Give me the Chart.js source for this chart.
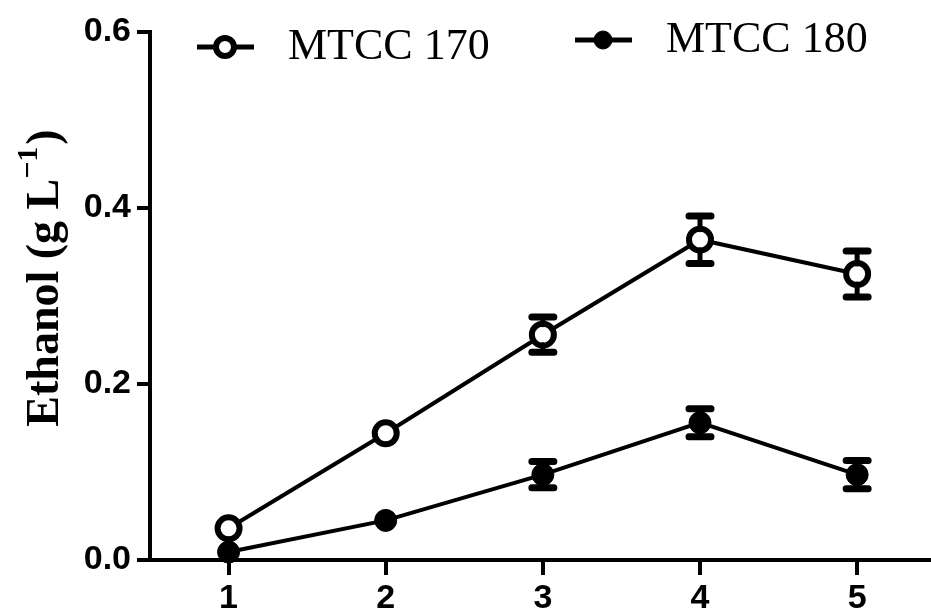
<!DOCTYPE html>
<html>
<head>
<meta charset="utf-8">
<script src="https://cdn.jsdelivr.net/npm/chart.js@4"></script>
<style>
    html, body { margin: 0; padding: 0; background: #fff; }
    #wrap { width: 931px; height: 612px; position: relative; }
</style>
</head>
<body>
<div id="wrap"><canvas id="chart"></canvas></div>
<script>
// values
const days = [1, 2, 3, 4, 5];
const mtcc170 = [0.036, 0.144, 0.256, 0.364, 0.325];
const mtcc170Err = [0, 0, 0.020, 0.027, 0.026];
const mtcc180 = [0.009, 0.045, 0.097, 0.156, 0.097];
const mtcc180Err = [0, 0, 0.015, 0.016, 0.016];
const yTicks = [0, 0.2, 0.4, 0.6];
const yTitle = ['Ethanol (g L', '\u22121', ')'];

const black = '#000';

function toPoints(xs, ys) {
    return xs.map((x, i) => ({ x: x, y: ys[i] }));
}

// error bars drawn through the chart's own scales
const errorBars = {
    id: 'errorBars',
    afterDatasetsDraw(chart) {
        const ctx = chart.ctx;
        const yScale = chart.scales.y;
        chart.data.datasets.forEach((ds, di) => {
            const meta = chart.getDatasetMeta(di);
            ds.errors.forEach((e, i) => {
                if (!e) return;
                const pt = meta.data[i];
                const v = ds.data[i].y;
                const top = yScale.getPixelForValue(v + e);
                const bot = yScale.getPixelForValue(v - e);
                ctx.save();
                ctx.strokeStyle = black;
                ctx.lineCap = 'round';
                ctx.lineWidth = 5;
                ctx.beginPath();
                ctx.moveTo(pt.x, top);
                ctx.lineTo(pt.x, pt.y - 10);
                ctx.moveTo(pt.x, pt.y + 10);
                ctx.lineTo(pt.x, bot);
                ctx.stroke();
                ctx.lineWidth = 7;
                ctx.beginPath();
                ctx.moveTo(pt.x - 11, top);
                ctx.lineTo(pt.x + 11, top);
                ctx.moveTo(pt.x - 11, bot);
                ctx.lineTo(pt.x + 11, bot);
                ctx.stroke();
                ctx.restore();
            });
        });
    }
};

// legend items placed like the original figure
const legendSpots = [
    { x: 197, y: 47 },
    { x: 575, y: 40 }
];
const figureLegend = {
    id: 'figureLegend',
    afterDraw(chart) {
        const ctx = chart.ctx;
        chart.data.datasets.forEach((ds, i) => {
            const s = legendSpots[i];
            ctx.save();
            ctx.strokeStyle = black;
            ctx.lineWidth = 5;
            ctx.beginPath();
            ctx.moveTo(s.x, s.y);
            ctx.lineTo(s.x + 57, s.y);
            ctx.stroke();
            ctx.beginPath();
            ctx.arc(s.x + 28, s.y, ds.pointRadius - 2, 0, Math.PI * 2);
            ctx.fillStyle = ds.pointBackgroundColor;
            ctx.fill();
            ctx.lineWidth = ds.pointBorderWidth;
            ctx.stroke();
            ctx.fillStyle = black;
            ctx.font = '44px "Liberation Serif"';
            ctx.textBaseline = 'middle';
            ctx.fillText(ds.label, s.x + 91, s.y);
            ctx.restore();
        });
    }
};

// rotated axis title with a real superscript
const axisTitle = {
    id: 'axisTitle',
    afterDraw(chart) {
        const ctx = chart.ctx;
        const big = 'bold 46px "Liberation Serif"';
        const small = 'bold 30px "Liberation Serif"';
        ctx.save();
        ctx.font = big;
        const w1 = ctx.measureText(yTitle[0]).width;
        const w3 = ctx.measureText(yTitle[2]).width;
        ctx.font = small;
        const w2 = ctx.measureText(yTitle[1]).width;
        const total = w1 + w2 + w3 + 2;
        ctx.translate(43, 278);
        ctx.rotate(-Math.PI / 2);
        ctx.fillStyle = black;
        ctx.textBaseline = 'alphabetic';
        let x = -total / 2;
        ctx.font = big;
        ctx.fillText(yTitle[0], x, 15);
        x += w1;
        ctx.font = small;
        ctx.fillText(yTitle[1], x, -6);
        x += w2 + 2;
        ctx.font = big;
        ctx.fillText(yTitle[2], x, 15);
        ctx.restore();
    }
};

new Chart(document.getElementById('chart'), {
    type: 'line',
    data: {
        datasets: [
            {
                label: 'MTCC 170',
                data: toPoints(days, mtcc170),
                errors: mtcc170Err,
                borderColor: black,
                borderWidth: 4,
                pointRadius: 11,
                pointBorderWidth: 6,
                pointBackgroundColor: '#fff',
                pointBorderColor: black,
                clip: false
            },
            {
                label: 'MTCC 180',
                data: toPoints(days, mtcc180),
                errors: mtcc180Err,
                borderColor: black,
                borderWidth: 4,
                pointRadius: 11,
                pointBorderWidth: 1,
                pointBackgroundColor: black,
                pointBorderColor: black,
                clip: false
            }
        ]
    },
    options: {
        responsive: true,
        maintainAspectRatio: false,
        animation: false,
        layout: { autoPadding: false, padding: { top: 32, right: 0, left: 0, bottom: 0 } },
        plugins: {
            legend: { display: false },
            tooltip: { enabled: false }
        },
        scales: {
            x: {
                type: 'linear',
                min: 0.5,
                max: 5.47,
                afterBuildTicks: scale => {
                    scale.ticks = days.map(d => ({ value: d }));
                },
                afterFit: scale => {
                    scale.height = 52;
                    scale.paddingLeft = 0;
                    scale.paddingRight = 0;
                },
                border: { display: true, color: black, width: 4 },
                grid: { drawOnChartArea: false, drawTicks: true, tickLength: 15, color: black, lineWidth: 4 },
                ticks: {
                    color: black,
                    padding: 3,
                    maxRotation: 0,
                    font: { family: '"Liberation Sans"', weight: 'bold', size: 34 }
                }
            },
            y: {
                min: 0,
                max: 0.6,
                afterBuildTicks: scale => {
                    scale.ticks = yTicks.map(v => ({ value: v }));
                },
                afterFit: scale => {
                    scale.width = 150;
                    scale.paddingTop = 0;
                    scale.paddingBottom = 0;
                },
                border: { display: true, color: black, width: 4 },
                grid: { drawOnChartArea: false, drawTicks: true, tickLength: 13, color: black, lineWidth: 4 },
                ticks: {
                    color: black,
                    padding: 6,
                    callback: v => Number(v).toFixed(1),
                    font: { family: '"Liberation Sans"', weight: 'bold', size: 34 }
                }
            }
        }
    },
    plugins: [errorBars, figureLegend, axisTitle]
});
</script>
</body>
</html>
